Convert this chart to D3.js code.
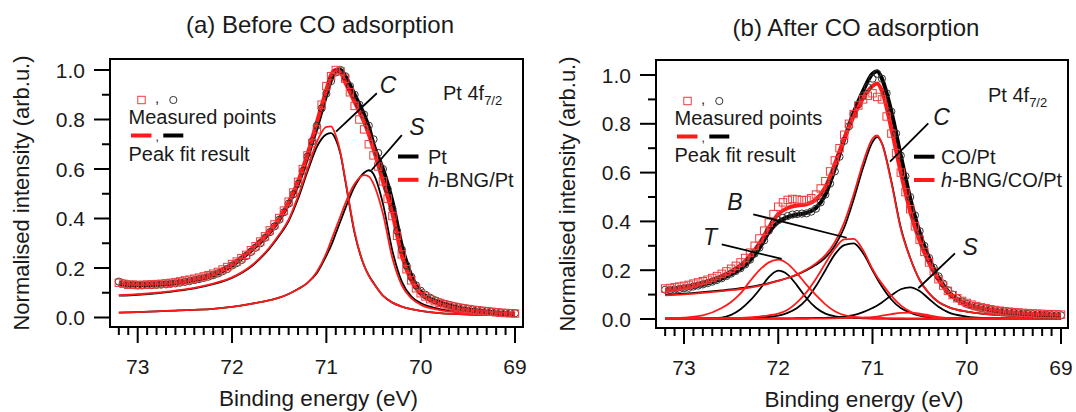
<!DOCTYPE html>
<html><head><meta charset="utf-8">
<script src="https://cdn.jsdelivr.net/npm/d3@7"></script>
<style>
body{margin:0;background:#fff}
svg{display:block}
text{font-family:"Liberation Sans",Arial,sans-serif;fill:#1a1a1a}
</style>
</head><body><svg id="c" width="1076" height="412"></svg>
<script>
// ---------------- DATA ----------------
const measE = [73.20,73.15,73.10,73.05,73.00,72.95,72.90,72.85,72.80,72.75,
72.70,72.65,72.60,72.55,72.50,72.45,72.40,72.35,72.30,72.25,
72.20,72.15,72.10,72.05,72.00,71.95,71.90,71.85,71.80,71.75,
71.70,71.65,71.60,71.55,71.50,71.45,71.40,71.35,71.30,71.25,
71.20,71.15,71.10,71.05,71.00,70.95,70.90,70.85,70.80,70.75,
70.70,70.65,70.60,70.55,70.50,70.45,70.40,70.35,70.30,70.25,
70.20,70.15,70.10,70.05,70.00,69.95,69.90,69.85,69.80,69.75,
69.70,69.65,69.60,69.55,69.50,69.45,69.40,69.35,69.30,69.25,
69.20,69.15,69.10,69.05,69.00];

// (a) measured points
const aMeasPt = [0.145,0.138,0.134,0.132,0.130,0.130,0.131,0.131,0.132,0.133,
0.134,0.136,0.138,0.141,0.144,0.147,0.151,0.155,0.160,0.165,
0.171,0.178,0.187,0.196,0.210,0.220,0.232,0.248,0.265,0.282,
0.300,0.322,0.345,0.368,0.395,0.425,0.460,0.498,0.540,0.592,
0.650,0.712,0.775,0.845,0.905,0.955,0.990,1.000,0.975,0.935,
0.900,0.860,0.820,0.775,0.720,0.665,0.600,0.520,0.440,0.350,
0.275,0.210,0.165,0.130,0.108,0.092,0.080,0.070,0.062,0.056,
0.051,0.046,0.042,0.039,0.036,0.033,0.030,0.028,0.026,0.024,
0.022,0.020,0.019,0.018,0.017];
const aMeasBNG = [0.140,0.136,0.132,0.133,0.131,0.132,0.133,0.134,0.135,0.136,
0.138,0.140,0.143,0.146,0.150,0.153,0.157,0.161,0.166,0.171,
0.177,0.184,0.194,0.204,0.216,0.226,0.240,0.253,0.272,0.288,
0.307,0.328,0.352,0.376,0.402,0.432,0.468,0.505,0.548,0.600,
0.655,0.705,0.760,0.860,0.935,0.975,1.000,0.995,0.965,0.910,
0.855,0.800,0.760,0.700,0.655,0.610,0.550,0.480,0.410,0.330,
0.255,0.195,0.150,0.118,0.098,0.085,0.074,0.066,0.059,0.053,
0.048,0.044,0.040,0.037,0.034,0.031,0.029,0.027,0.025,0.023,
0.021,0.019,0.018,0.017,0.016];

// (a) fits
const fitEa = [73.2,73.0,72.8,72.6,72.4,72.2,72.0,71.8,71.6,71.5,71.4,71.3,71.2,71.1,71.0,70.95,70.9,70.85,70.8,70.7,70.6,70.55,70.5,70.4,70.3,70.2,70.1,70.0,69.8,69.6,69.4,69.2,69.0];
const aFitPt  = [0.135,0.13,0.132,0.138,0.15,0.17,0.21,0.27,0.345,0.395,0.46,0.54,0.65,0.77,0.9,0.96,0.995,1.0,0.975,0.9,0.82,0.77,0.70,0.60,0.47,0.29,0.17,0.105,0.062,0.04,0.028,0.02,0.015];
const aFitBNG = [0.14,0.135,0.137,0.142,0.155,0.175,0.215,0.275,0.35,0.40,0.465,0.55,0.66,0.79,0.92,0.98,1.0,0.99,0.95,0.87,0.79,0.74,0.68,0.55,0.42,0.25,0.15,0.095,0.055,0.035,0.025,0.018,0.014];
const aCPt    = [0.088,0.092,0.098,0.107,0.118,0.135,0.16,0.205,0.28,0.33,0.39,0.48,0.59,0.69,0.74,0.745,0.72,0.66,0.555,0.34,0.21,0.17,0.14,0.088,0.06,0.044,0.034,0.027,0.018,0.014,0.011,0.009,0.007];
const aCBNG   = [0.09,0.094,0.1,0.109,0.12,0.137,0.162,0.208,0.284,0.335,0.395,0.49,0.60,0.71,0.77,0.772,0.735,0.665,0.56,0.345,0.21,0.168,0.138,0.088,0.06,0.044,0.034,0.027,0.018,0.014,0.011,0.009,0.007];
const aSPt    = [0.02,0.022,0.025,0.028,0.031,0.035,0.043,0.055,0.07,0.08,0.095,0.115,0.14,0.18,0.25,0.29,0.34,0.39,0.44,0.53,0.585,0.595,0.58,0.46,0.27,0.145,0.085,0.058,0.034,0.024,0.018,0.015,0.013];
const aSBNG   = [0.02,0.022,0.025,0.028,0.031,0.035,0.043,0.055,0.07,0.08,0.095,0.115,0.14,0.185,0.26,0.31,0.36,0.41,0.46,0.54,0.575,0.57,0.54,0.42,0.24,0.13,0.078,0.052,0.03,0.021,0.016,0.013,0.011];

// (b) measured points
const bMeasCO = [0.120,0.118,0.121,0.123,0.126,0.128,0.133,0.137,0.142,0.147,
0.153,0.160,0.167,0.176,0.186,0.197,0.208,0.224,0.243,0.268,
0.292,0.322,0.362,0.392,0.405,0.415,0.422,0.428,0.430,0.432,
0.433,0.440,0.452,0.478,0.510,0.555,0.605,0.665,0.730,0.790,
0.840,0.880,0.915,0.950,0.985,1.005,0.985,0.925,0.850,0.760,
0.670,0.585,0.500,0.425,0.360,0.300,0.250,0.210,0.175,0.145,
0.118,0.100,0.085,0.072,0.062,0.055,0.050,0.045,0.041,0.038,
0.035,0.032,0.030,0.028,0.026,0.024,0.022,0.021,0.020,0.019,
0.018,0.017,0.016,0.015,0.015];
const bMeasBNG = [0.125,0.127,0.130,0.133,0.136,0.140,0.145,0.150,0.155,0.161,
0.168,0.176,0.185,0.195,0.206,0.218,0.232,0.250,0.272,0.300,
0.330,0.362,0.395,0.430,0.460,0.478,0.488,0.492,0.490,0.487,
0.488,0.495,0.510,0.535,0.565,0.605,0.650,0.700,0.755,0.800,
0.840,0.875,0.900,0.915,0.925,0.910,0.900,0.830,0.760,0.680,
0.600,0.520,0.450,0.380,0.325,0.275,0.232,0.195,0.163,0.137,
0.115,0.098,0.085,0.074,0.066,0.059,0.053,0.048,0.044,0.040,
0.037,0.034,0.032,0.030,0.028,0.027,0.025,0.024,0.023,0.022,
0.021,0.020,0.020,0.019,0.018];

// (b) fits
const fitEb = [73.2,73.0,72.8,72.6,72.5,72.4,72.3,72.2,72.1,72.0,71.9,71.8,71.7,71.6,71.5,71.4,71.3,71.2,71.1,71.0,70.95,70.9,70.8,70.7,70.6,70.5,70.4,70.3,70.2,70.0,69.8,69.6,69.4,69.2,69.0];
const bFitCO  = [0.115,0.125,0.14,0.165,0.183,0.205,0.24,0.29,0.355,0.398,0.418,0.428,0.435,0.455,0.51,0.615,0.735,0.845,0.935,1.005,1.015,0.985,0.85,0.67,0.495,0.355,0.25,0.17,0.115,0.06,0.04,0.028,0.021,0.017,0.014];
const bFitBNG = [0.12,0.13,0.148,0.175,0.195,0.22,0.26,0.31,0.375,0.43,0.455,0.465,0.47,0.49,0.54,0.635,0.74,0.83,0.905,0.955,0.965,0.935,0.78,0.60,0.44,0.32,0.23,0.16,0.11,0.062,0.042,0.031,0.024,0.02,0.017];
const bCPt    = [0.1,0.104,0.11,0.117,0.121,0.126,0.132,0.139,0.147,0.157,0.168,0.182,0.2,0.222,0.252,0.3,0.375,0.49,0.62,0.725,0.745,0.72,0.565,0.375,0.25,0.16,0.105,0.07,0.05,0.03,0.02,0.015,0.012,0.01,0.008];
const bCBNG   = [0.097,0.101,0.107,0.114,0.118,0.123,0.129,0.136,0.145,0.156,0.168,0.183,0.203,0.228,0.262,0.315,0.395,0.51,0.64,0.74,0.752,0.72,0.56,0.37,0.25,0.16,0.105,0.07,0.05,0.03,0.02,0.015,0.012,0.01,0.008];
const bBPt    = [0.001,0.001,0.001,0.002,0.002,0.003,0.004,0.006,0.009,0.014,0.025,0.045,0.08,0.135,0.2,0.265,0.303,0.31,0.27,0.2,0.165,0.133,0.08,0.045,0.026,0.014,0.008,0.005,0.003,0.002,0.001,0.001,0.001,0.001,0.001];
const bBBNG   = [0.001,0.001,0.002,0.003,0.004,0.005,0.007,0.01,0.015,0.022,0.038,0.068,0.11,0.165,0.228,0.288,0.326,0.328,0.282,0.205,0.172,0.145,0.095,0.056,0.031,0.017,0.01,0.006,0.004,0.002,0.002,0.001,0.001,0.001,0.001];
const bTPt    = [0.001,0.001,0.002,0.006,0.017,0.04,0.075,0.12,0.172,0.198,0.182,0.137,0.085,0.046,0.022,0.011,0.006,0.004,0.003,0.002,0.002,0.002,0.001,0.001,0.001,0.001,0.001,0.001,0.001,0.001,0.001,0.001,0.001,0.001,0.001];
const bTBNG   = [0.003,0.006,0.015,0.045,0.07,0.105,0.155,0.2,0.232,0.243,0.226,0.187,0.14,0.098,0.06,0.032,0.016,0.009,0.005,0.004,0.003,0.003,0.002,0.002,0.001,0.001,0.001,0.001,0.001,0.001,0.001,0.001,0.001,0.001,0.001];
const bSPt    = [0.001,0.001,0.001,0.001,0.001,0.001,0.001,0.001,0.002,0.002,0.002,0.003,0.003,0.004,0.005,0.006,0.01,0.016,0.028,0.045,0.055,0.068,0.097,0.122,0.13,0.115,0.082,0.05,0.028,0.01,0.004,0.002,0.001,0.001,0.001];
const bSBNG   = [0.001,0.001,0.001,0.001,0.001,0.001,0.001,0.001,0.001,0.001,0.001,0.001,0.001,0.002,0.002,0.003,0.004,0.005,0.006,0.008,0.01,0.014,0.02,0.025,0.026,0.022,0.015,0.008,0.004,0.002,0.001,0.001,0.001,0.001,0.001];

const xTicksMajor = [73,72,71,70,69];
const yTicksMajor = [0,0.2,0.4,0.6,0.8,1.0];

// ---------------- DRAW ----------------
const RED = "#ff1a1a", BLK = "#000";
const svg = d3.select("#c");

const panels = [
 {title:"(a) Before CO adsorption", fl:110, ft:59, fr:523, fb:327, xr:[137.7,515], yr:[317.5,70],
  titleX:320, titleY:33, yTitleX:21, tickLblR:85,
  fitE:fitEa,
  thin:[[aCPt,BLK],[aSPt,BLK],[aCBNG,RED],[aSBNG,RED]],
  totals:[[aFitPt,BLK],[aFitBNG,RED]],
  meas:[aMeasPt,aMeasBNG],
  legLineX:398, legTextX:428, legY:97.5, legNames:["Pt","BNG/Pt"],
  ptX:443, ptY:100,
  ann:[{t:"C",x:70.346,y:0.94,l:[70.465,0.906,70.897,0.751]},
       {t:"S",x:70.04,y:0.771,l:[70.2,0.737,70.52,0.596]}]},
 {title:"(b) After CO adsorption", fl:656, ft:60, fr:1068, fb:328, xr:[684,1061], yr:[319,75],
  titleX:856, titleY:36, yTitleX:567, tickLblR:631,
  fitE:fitEb,
  thin:[[bTPt,BLK],[bBPt,BLK],[bCPt,BLK],[bSPt,BLK],[bTBNG,RED],[bBBNG,RED],[bCBNG,RED],[bSBNG,RED]],
  totals:[[bFitCO,BLK],[bFitBNG,RED]],
  meas:[bMeasCO,bMeasBNG],
  legLineX:914, legTextX:941, legY:96.7, legNames:["CO/Pt","BNG/CO/Pt"],
  ptX:988, ptY:102,
  ann:[{t:"C",x:70.266,y:0.829,l:[70.408,0.802,70.814,0.645]},
       {t:"S",x:69.965,y:0.296,l:[70.125,0.269,70.514,0.126]},
       {t:"B",x:72.459,y:0.481,l:[72.265,0.429,71.274,0.333]},
       {t:"T",x:72.724,y:0.337,l:[72.6,0.306,71.963,0.246]}]}
];

panels.forEach(p => {
  const x = d3.scaleLinear().domain([73,69]).range(p.xr);
  const y = d3.scaleLinear().domain([0,1]).range(p.yr);
  const g = svg.append("g");

  g.append("text").attr("x",p.titleX).attr("y",p.titleY).attr("text-anchor","middle")
    .style("font-size","24px").text(p.title);

  const yMinor = d3.range(0,11).map(i=>i/10);
  yMinor.forEach(v=>{
    const major = Math.round(v*10)%2===0;
    g.append("line").attr("x1",p.fl-(major?16:8)).attr("x2",p.fl).attr("y1",y(v)).attr("y2",y(v))
      .attr("stroke","#000").attr("stroke-width",2);
  });
  yTicksMajor.forEach(v=>{
    g.append("text").attr("x",p.tickLblR).attr("y",y(v)).attr("dy","0.36em").attr("text-anchor","end")
      .style("font-size","21px").text(d3.format(".1f")(v));
  });
  const xMinor = d3.range(0,43).map(i=>+(73.2 - i*0.1).toFixed(1));
  xMinor.forEach(e=>{
    const major = Math.abs(e-Math.round(e))<1e-6;
    g.append("line").attr("x1",x(e)).attr("x2",x(e)).attr("y1",p.fb).attr("y2",p.fb+(major?16:8))
      .attr("stroke","#000").attr("stroke-width",2);
  });
  xTicksMajor.forEach(e=>{
    g.append("text").attr("x",x(e)).attr("y",p.fb+47).attr("text-anchor","middle")
      .style("font-size","21px").text(e);
  });
  g.append("text").attr("x",(p.fl+p.fr)/2+2).attr("y",p.fb+79).attr("text-anchor","middle")
    .style("font-size","22.5px").text("Binding energy (eV)");
  g.append("text").attr("transform",`translate(${p.yTitleX},${(p.ft+p.fb)/2})rotate(-90)`)
    .attr("text-anchor","middle").attr("dy","0.36em").style("font-size","22px")
    .text("Normalised intensity (arb.u.)");

  const cid = "clip"+p.fl;
  svg.append("clipPath").attr("id",cid).append("rect")
    .attr("x",p.fl).attr("y",p.ft).attr("width",p.fr-p.fl).attr("height",p.fb-p.ft);
  const pg = g.append("g").attr("clip-path",`url(#${cid})`);

  const line = d3.line().x(d=>x(d[0])).y(d=>y(d[1])).curve(d3.curveMonotoneX);
  const series = arr => p.fitE.map((e,i)=>[e,arr[i]]);

  p.thin.forEach(([arr,col])=>{
    pg.append("path").attr("d",line(series(arr))).attr("fill","none")
      .attr("stroke",col).attr("stroke-width",1.8);
  });
  p.totals.forEach(([arr,col])=>{
    pg.append("path").attr("d",line(series(arr))).attr("fill","none")
      .attr("stroke",col).attr("stroke-width",4);
  });
  pg.selectAll(null).data(measE.map((e,i)=>[e,p.meas[0][i]])).enter().append("circle")
    .attr("cx",d=>x(d[0])).attr("cy",d=>y(d[1])).attr("r",3.6)
    .attr("fill","none").attr("stroke","#333").attr("stroke-width",1);
  pg.selectAll(null).data(measE.map((e,i)=>[e,p.meas[1][i]])).enter().append("rect")
    .attr("x",d=>x(d[0])-3.7).attr("y",d=>y(d[1])-3.7).attr("width",7.4).attr("height",7.4)
    .attr("fill","none").attr("stroke","#f03c3c").attr("stroke-width",1);

  g.append("rect").attr("x",p.fl).attr("y",p.ft).attr("width",p.fr-p.fl).attr("height",p.fb-p.ft)
    .attr("fill","none").attr("stroke","#000").attr("stroke-width",2);

  p.ann.forEach(a=>{
    g.append("line").attr("x1",x(a.l[0])).attr("y1",y(a.l[1])).attr("x2",x(a.l[2])).attr("y2",y(a.l[3]))
      .attr("stroke","#000").attr("stroke-width",1.8);
    g.append("text").attr("x",x(a.x)).attr("y",y(a.y)).attr("dy","0.36em").attr("text-anchor","middle")
      .style("font-size","23px").style("font-style","italic").text(a.t);
  });

  // marker / fit legend (top-left)
  const lx = p.fl, ly = p.ft;
  g.append("rect").attr("x",lx+31.5-3.7).attr("y",ly+41-3.7).attr("width",7.4).attr("height",7.4)
    .attr("fill","none").attr("stroke","#f03c3c").attr("stroke-width",1);
  g.append("text").attr("x",lx+45).attr("y",ly+44).style("font-size","15px").text(",");
  g.append("circle").attr("cx",lx+63.3).attr("cy",ly+41).attr("r",3.6)
    .attr("fill","none").attr("stroke","#333").attr("stroke-width",1);
  g.append("text").attr("x",lx+18.5).attr("y",ly+65).style("font-size","20px").text("Measured points");
  g.append("line").attr("x1",lx+21).attr("x2",lx+41.5).attr("y1",ly+76.5).attr("y2",ly+76.5)
    .attr("stroke",RED).attr("stroke-width",4);
  g.append("text").attr("x",lx+45.5).attr("y",ly+82).style("font-size","12px").text(",");
  g.append("line").attr("x1",lx+53.3).attr("x2",lx+73.3).attr("y1",ly+76.5).attr("y2",ly+76.5)
    .attr("stroke",BLK).attr("stroke-width",4);
  g.append("text").attr("x",lx+18.5).attr("y",ly+101.5).style("font-size","20px").text("Peak fit result");

  [[BLK,0],[RED,1]].forEach(([col,i])=>{
    const yy = p.legY + p.ft + i*23.3;
    g.append("line").attr("x1",p.legLineX).attr("x2",p.legLineX+20.5).attr("y1",yy).attr("y2",yy)
      .attr("stroke",col).attr("stroke-width",4);
    const t = g.append("text").attr("x",p.legTextX).attr("y",yy).attr("dy","0.36em").style("font-size","20px");
    if(i===0){ t.text(p.legNames[0]); }
    else { t.append("tspan").style("font-style","italic").text("h");
           t.append("tspan").text("-"+p.legNames[1]); }
  });

  const pt = g.append("text").attr("x",p.ptX).attr("y",p.ptY).style("font-size","20px");
  pt.append("tspan").text("Pt 4f");
  pt.append("tspan").attr("dy",5).style("font-size","13px").text("7/2");
});
</script></body></html>
